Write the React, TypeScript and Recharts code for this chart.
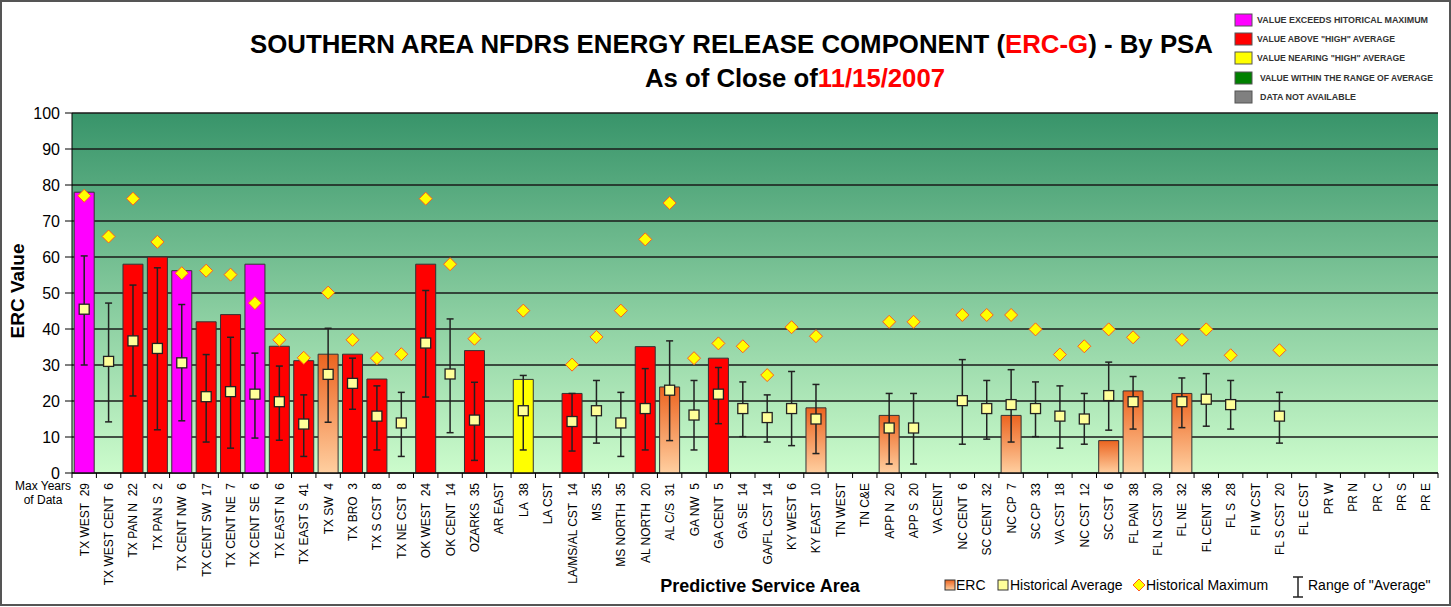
import React from "react";
import { Bar, Cell, ComposedChart, CartesianGrid, ErrorBar, Line, XAxis, YAxis } from "recharts";

const psaNames = [
  "TX WEST", "TX WEST CENT", "TX PAN N", "TX PAN S", "TX CENT NW", "TX CENT SW", "TX CENT NE", "TX CENT SE",
  "TX EAST N", "TX EAST S", "TX SW", "TX BRO", "TX S CST", "TX NE CST", "OK WEST", "OK CENT", "OZARKS",
  "AR EAST", "LA", "LA CST", "LA/MS/AL CST", "MS", "MS NORTH", "AL NORTH", "AL C/S", "GA NW", "GA CENT",
  "GA SE", "GA/FL CST", "KY WEST", "KY EAST", "TN WEST", "TN C&E", "APP N", "APP S", "VA CENT", "NC CENT",
  "SC CENT", "NC CP", "SC CP", "VA CST", "NC CST", "SC CST", "FL PAN", "FL N CST", "FL NE", "FL CENT", "FL S",
  "FI W CST", "FL S CST", "FL E CST", "PR W", "PR N", "PR C", "PR S", "PR E",
];

const maxYears = [
  29, 6, 22, 2, 6, 17, 7, 6, 6, 41, 4, 3, 8, 8, 24, 14, 35, null, 38, null, 14, 35, 35, 20, 31, 5, 5, 14, 14,
  6, 10, null, null, 20, 20, null, 6, 32, 7, 33, 18, 12, 6, 38, 30, 32, 36, 28, null, 20, null, null, null,
  null, null, null,
];

const ercValues = [
  78, null, 58, 60, 56.2, 42, 44, 58, 35.2, 31.2, 33, 33, 26.1, null, 58, null, 34, null, 26, null, 22.1,
  null, null, 35.1, 23.9, null, 31.9, null, null, null, 18.1, null, null, 16, null, null, null, null, 16,
  null, null, null, 9, 22.8, null, 22.1, null, null, null, null, null, null, null, null, null, null,
];

// max = exceeds historical max, high = above "high" average, near = nearing "high", avg = within range
const ercStatus = [
  "max", null, "high", "high", "max", "high", "high", "max", "high", "high", "avg", "high", "high", null,
  "high", null, "high", null, "near", null, "high", null, null, "high", "avg", null, "high", null, null, null,
  "avg", null, null, "avg", null, null, null, null, "avg", null, null, null, "avg", "avg", null, "avg", null,
  null, null, null, null, null, null, null, null, null,
];

const histAverage = [
  45.5, 31, 36.7, 34.6, 30.6, 21.2, 22.6, 21.9, 19.8, 13.6, 27.4, 24.9, 15.8, 13.9, 36.1, 27.5, 14.7, null,
  17.3, null, 14.3, 17.3, 13.9, 17.9, 23, 16.1, 21.9, 17.9, 15.4, 17.9, 15, null, null, 12.5, 12.5, null,
  20.1, 17.9, 19, 17.9, 15.8, 15, 21.5, 19.8, null, 19.8, 20.5, 19, null, 15.8, null, null, null, null, null,
  null,
];

const avgLow = [
  30, 14.2, 21.4, 12, 14.5, 8.6, 6.9, 9.7, 9.1, 4.6, 14.1, 17.7, 6.4, 4.6, 21.1, 11.2, 3.5, null, 6.4, null,
  6.1, 8.3, 4.6, 6.4, 9, 6.4, 13.7, 10.1, 8.6, 7.6, 5.4, null, null, 2.5, 2.5, null, 8, 9.4, 8.6, 10.1, 6.9,
  8, 11.9, 12.2, null, 12.6, 13, 12.2, null, 8.3, null, null, null, null, null, null,
];

const avgHigh = [
  60.3, 47.2, 52.2, 57, 46.8, 32.9, 37.7, 33.3, 29.7, 21.7, 40.2, 31.9, 24.2, 22.4, 50.7, 42.8, 25.2, null,
  27.1, null, 22.1, 25.7, 22.4, 29, 36.7, 25.7, 29.3, 25.3, 21.7, 28.2, 24.6, null, null, 22.1, 22.1, null,
  31.5, 25.7, 28.7, 25.3, 24.2, 22.1, 30.8, 26.8, null, 26.4, 27.6, 25.7, null, 22.4, null, null, null, null,
  null, null,
];

const histMaximum = [
  77, 65.7, 76.2, 64.2, 55.5, 56.2, 55.1, 47.2, 37, 32, 50.1, 37, 31.9, 33, 76.2, 58, 37.3, null, 45.1, null,
  30.1, 37.8, 45.1, 64.9, 75, 31.9, 36, 35.2, 27.2, 40.5, 38, null, null, 42, 42, null, 43.9, 43.9, 43.9,
  39.9, 32.9, 35.2, 39.9, 37.7, null, 37, 39.9, 32.7, null, 34.1, null, null, null, null, null, null,
];

const yTicks = [0, 10, 20, 30, 40, 50, 60, 70, 80, 90, 100];

const statusFill: Record<string, string> = {
  max: "#FF00FF",
  high: "#FF0000",
  near: "#FFFF00",
  avg: "url(#ercFill)",
};

const data = psaNames.map((name, i) => ({
  label: maxYears[i] != null ? `${name}  ${maxYears[i]}` : name,
  erc: ercValues[i],
  status: ercStatus[i],
  avg: histAverage[i],
  range: histAverage[i] != null ? [histAverage[i]! - avgLow[i]!, avgHigh[i]! - histAverage[i]!] : null,
  max: histMaximum[i],
}));

const FONT = "'Liberation Sans', Arial, sans-serif";
const W = 1451;
const H = 607;
const PLOT_LEFT = 72;
const PLOT_RIGHT = 1438;
const PLOT_BOTTOM = 473;
const BAND = (PLOT_RIGHT - PLOT_LEFT) / psaNames.length;

function XTick(props: any) {
  const { x, payload, index } = props;
  return (
    <g>
      <line x1={x - BAND / 2} x2={x - BAND / 2} y1={PLOT_BOTTOM} y2={PLOT_BOTTOM + 5} stroke="#000" />
      {index === psaNames.length - 1 && (
        <line x1={x + BAND / 2} x2={x + BAND / 2} y1={PLOT_BOTTOM} y2={PLOT_BOTTOM + 5} stroke="#000" />
      )}
      <text
        transform={`translate(${x + 4.5},${PLOT_BOTTOM + 10}) rotate(-90)`}
        textAnchor="end"
        fontSize={12}
        fontFamily={FONT}
        fill="#000"
        style={{ whiteSpace: "pre" }}
      >
        {payload.value}
      </text>
    </g>
  );
}

function AvgDot(props: any) {
  const { cx, cy, value, index } = props;
  if (value == null || cy == null) return <g key={`a-${index}`} />;
  return <rect key={`a-${index}`} x={cx - 5} y={cy - 5} width={10} height={10} fill="#FFFF99" stroke="#222" strokeWidth={1.3} />;
}

function MaxDot(props: any) {
  const { cx, cy, value, index } = props;
  if (value == null || cy == null) return <g key={`m-${index}`} />;
  return (
    <polygon
      key={`m-${index}`}
      points={`${cx},${cy - 6.5} ${cx + 6.5},${cy} ${cx},${cy + 6.5} ${cx - 6.5},${cy}`}
      fill="#FFFF00"
      stroke="#FF5A1E"
      strokeWidth={1}
    />
  );
}

const statusLegend = [
  { color: "#FF00FF", text: "VALUE EXCEEDS HITORICAL MAXIMUM", len: 171 },
  { color: "#FF0000", text: 'VALUE ABOVE "HIGH" AVERAGE', len: 138 },
  { color: "#FFFF00", text: 'VALUE NEARING "HIGH" AVERAGE', len: 148 },
  { color: "#008000", text: "VALUE WITHIN THE RANGE OF AVERAGE", len: 173 },
  { color: "#808080", text: "DATA NOT AVAILABLE", len: 96 },
];

export default function App() {
  return (
    <div style={{ position: "relative", width: W, height: H, background: "#fff", fontFamily: FONT }}>
      <style>{"body{margin:0}"}</style>
      <ComposedChart
        width={W}
        height={H}
        data={data}
        margin={{ top: 113, right: W - PLOT_RIGHT, bottom: 0, left: 12 }}
        barCategoryGap="9%"
      >
        <defs>
          <linearGradient id="plotBg" x1="0" y1="0" x2="0" y2="1">
            <stop offset="0%" stopColor="#38946A" />
            <stop offset="100%" stopColor="#CCFCCC" />
          </linearGradient>
          <linearGradient id="ercFill" x1="0" y1="0" x2="0" y2="1">
            <stop offset="0%" stopColor="#EC6420" />
            <stop offset="100%" stopColor="#FFCFA0" />
          </linearGradient>
        </defs>
        <CartesianGrid vertical={false} fill="url(#plotBg)" stroke="#1a1a1a" strokeWidth={1.4} />
        <XAxis
          dataKey="label"
          interval={0}
          height={H - PLOT_BOTTOM}
          tickLine={false}
          axisLine={{ stroke: "#000" }}
          tick={<XTick />}
        />
        <YAxis
          width={60}
          domain={[0, 100]}
          ticks={yTicks}
          interval={0}
          tickSize={7}
          tickMargin={5}
          axisLine={{ stroke: "#000" }}
          tickLine={{ stroke: "#000" }}
          tick={{ fontSize: 16, fill: "#000", fontFamily: FONT }}
        />
        <Bar dataKey="erc" stroke="#333" strokeWidth={1} isAnimationActive={false}>
          {data.map((d, i) => (
            <Cell key={`c-${i}`} fill={d.status ? statusFill[d.status] : "none"} />
          ))}
        </Bar>
        <Line
          dataKey="avg"
          stroke="none"
          dot={AvgDot}
          activeDot={false}
          legendType="none"
          isAnimationActive={false}
        >
          <ErrorBar dataKey="range" direction="y" width={3.5} stroke="#222" strokeWidth={1.5} />
        </Line>
        <Line
          dataKey="max"
          stroke="none"
          dot={MaxDot}
          activeDot={false}
          legendType="none"
          isAnimationActive={false}
        />
      </ComposedChart>

      <svg
        width={W}
        height={H}
        style={{ position: "absolute", left: 0, top: 0, pointerEvents: "none" }}
        fontFamily={FONT}
      >
        <text x={250} y={53} fontSize={25} fontWeight="bold" fill="#000" textLength={963} lengthAdjust="spacingAndGlyphs">
          SOUTHERN AREA NFDRS ENERGY RELEASE COMPONENT (<tspan fill="#FF0000">ERC-G</tspan>) - By PSA
        </text>
        <text x={645} y={87} fontSize={25} fontWeight="bold" fill="#000" textLength={300} lengthAdjust="spacingAndGlyphs">
          As of Close of<tspan fill="#FF0000">11/15/2007</tspan>
        </text>

        {statusLegend.map((s, i) => {
          const top = [14, 33, 52, 72, 91][i];
          return (
            <g key={s.text}>
              <rect x={1235} y={top} width={17} height={12} fill={s.color} stroke="#555" strokeWidth={1} />
              <text
                x={i >= 3 ? 1260 : 1257}
                y={top + 9}
                fontSize={8.5}
                fontWeight="bold"
                fill="#333"
                textLength={s.len}
                lengthAdjust="spacingAndGlyphs"
              >
                {s.text}
              </text>
            </g>
          );
        })}

        <text transform="translate(24,291) rotate(-90)" textAnchor="middle" fontSize={19} fontWeight="bold" fill="#000">
          ERC Value
        </text>

        <text x={43} y={490} textAnchor="middle" fontSize={12} fill="#000">Max Years</text>
        <text x={43} y={504} textAnchor="middle" fontSize={12} fill="#000">of Data</text>

        <text x={760} y={592} textAnchor="middle" fontSize={18} fontWeight="bold" fill="#000">
          Predictive Service Area
        </text>

        <rect x={945} y={580} width={10} height={10} fill="url(#legErc)" stroke="#333" />
        <defs>
          <linearGradient id="legErc" x1="0" y1="0" x2="0" y2="1">
            <stop offset="0%" stopColor="#EC6420" />
            <stop offset="100%" stopColor="#FFCFA0" />
          </linearGradient>
        </defs>
        <text x={956} y={590} fontSize={14} fill="#000">ERC</text>
        <rect x={998} y={580} width={10} height={10} fill="#FFFF99" stroke="#333" />
        <text x={1010} y={590} fontSize={14} fill="#000">Historical Average</text>
        <polygon points="1139,579 1145,585 1139,591 1133,585" fill="#FFFF00" stroke="#FF5A1E" />
        <text x={1146} y={590} fontSize={14} fill="#000">Historical Maximum</text>
        <line x1={1298} x2={1298} y1={577} y2={597} stroke="#222" strokeWidth={1.5} />
        <line x1={1293} x2={1303} y1={577} y2={577} stroke="#222" strokeWidth={1.5} />
        <line x1={1293} x2={1303} y1={597} y2={597} stroke="#222" strokeWidth={1.5} />
        <text x={1308} y={590} fontSize={14} fill="#000">Range of "Average"</text>

        <rect x={1} y={1} width={W - 2} height={H - 3} fill="none" stroke="#555" strokeWidth={2} />
      </svg>
    </div>
  );
}
